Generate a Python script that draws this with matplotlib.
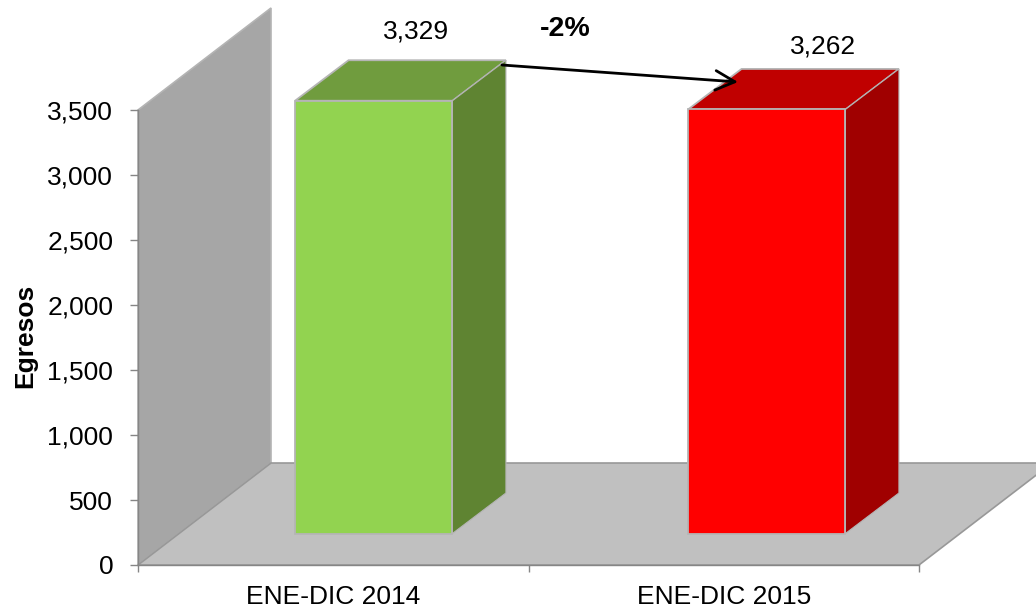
import matplotlib
matplotlib.use("Agg")
import matplotlib.pyplot as plt
from matplotlib.patches import Polygon

categories = ["ENE-DIC 2014", "ENE-DIC 2015"]
values = [3329, 3262]
front_colors = ["#92d350", "#ff0000"]
top_colors = ["#709c3e", "#c00000"]
side_colors = ["#5f8432", "#a00000"]
y_ticks = [0, 500, 1000, 1500, 2000, 2500, 3000, 3500]
change_label = "-2%"

W, H = 1036, 610
plt.rcParams["font.family"] = ["Liberation Sans", "DejaVu Sans"]
FS = 19
fig = plt.figure(figsize=(W / 100, H / 100), dpi=100, facecolor="white")
ax = fig.add_axes([138 / W, (H - 565) / H, (919 - 138) / W, (565 - 110) / H])
ax.set_xlim(0, 2)
ax.set_ylim(0, 3500)
ax.patch.set_visible(False)

ymax = 3500
wall_dx, wall_dy = 133, 102      # px depth of the chart box
depth_dx, depth_dy = 53.5, 40.5  # px depth of a bar
base_dxs = [40.5, 43]            # px offset of bar front from axis plane
base_dy = 31.5
bar_w = 0.403
sx = (919 - 138) / 2             # px per x unit
sy = 455 / 3500                  # px per y unit
to_x = lambda px: px / sx
to_y = lambda px: px / sy

# wall and floor
wall = Polygon([(0, 0), (0, ymax), (to_x(wall_dx), ymax + to_y(wall_dy)), (to_x(wall_dx), to_y(wall_dy))],
               closed=True, fc="#a6a6a6", ec="#b4b4b4", lw=1.2, clip_on=False, zorder=1)
floor = Polygon([(0, 0), (2, 0), (2 + to_x(wall_dx), to_y(wall_dy)), (to_x(wall_dx), to_y(wall_dy))],
                closed=True, fc="#c0c0c0", ec="#989898", lw=1.2, clip_on=False, zorder=1)
ax.add_patch(wall)
ax.add_patch(floor)

# bars
for i, v in enumerate(values):
    c = i + 0.5 + to_x(base_dxs[i])
    b0 = to_y(base_dy)
    l, r = c - bar_w / 2, c + bar_w / 2
    t = b0 + v
    ddx, ddy = to_x(depth_dx), to_y(depth_dy)
    ax.bar([c], [v], width=bar_w, bottom=b0, color=front_colors[i], edgecolor="#b5b5b5",
           linewidth=1.3, clip_on=False, zorder=4)
    ax.add_patch(Polygon([(l, t), (r, t), (r + ddx, t + ddy), (l + ddx, t + ddy)], closed=True,
                         fc=top_colors[i], ec="#b5b5b5", lw=1.3, clip_on=False, zorder=3))
    ax.add_patch(Polygon([(r, b0), (r, t), (r + ddx, t + ddy), (r + ddx, b0 + ddy)], closed=True,
                         fc=side_colors[i], ec="#b5b5b5", lw=0.8, clip_on=False, zorder=3))

label_off = [(42, 69), (56, 63)]
for i, v in enumerate(values):
    c = i + 0.5 + to_x(base_dxs[i])
    ax.annotate(f"{v:,}", xy=(c, to_y(base_dy) + v), xytext=label_off[i], textcoords="offset pixels",
                ha="center", va="center", fontsize=FS, color="black", annotation_clip=False, zorder=6)

# axes styling
ax.set_xticks([0, 1, 2])
ax.set_xticklabels([])
ax.set_xticks([0.5, 1.5], labels=categories, minor=True)
ax.tick_params(axis="x", which="minor", length=0, labelsize=FS, pad=14.5)
ax.tick_params(axis="x", which="major", length=5, width=1.0, color="#868686")
ax.set_yticks(y_ticks)
ax.set_yticklabels([f"{t:,}" for t in y_ticks], fontsize=FS)
ax.tick_params(axis="y", length=5.8, width=1.0, color="#868686", pad=12)
for s in ("top", "right"):
    ax.spines[s].set_visible(False)
for s in ("left", "bottom"):
    ax.spines[s].set_color("#868686")
    ax.spines[s].set_linewidth(1.0)
    ax.spines[s].set_zorder(2)
fig.text(25 / W, (H - 336) / H, "Egresos", rotation=90, ha="center", va="center",
         fontsize=FS, fontweight="bold")

# change annotation
fig.text(565 / W, (H - 29) / H, change_label, ha="center", va="center", fontsize=20.5, fontweight="bold")
ax.annotate("", xy=(738, H - 82), xytext=(502, H - 65), xycoords="figure pixels",
            textcoords="figure pixels", annotation_clip=False, zorder=7,
            arrowprops=dict(arrowstyle="->,head_length=0.7,head_width=0.35", lw=2.0, color="black",
                            shrinkA=0, shrinkB=0, mutation_scale=20))

fig.savefig("out.png", dpi=100)
